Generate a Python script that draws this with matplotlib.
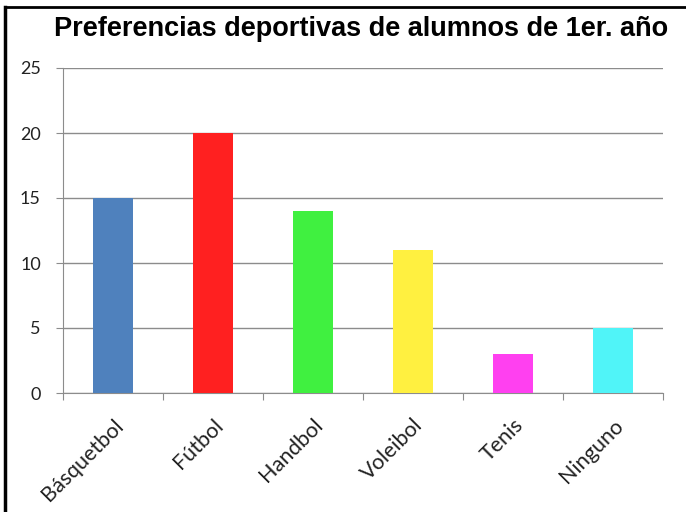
import numpy as np
import matplotlib
matplotlib.use('Agg')
import matplotlib.pyplot as plt
import matplotlib.transforms as mtransforms
from matplotlib.lines import Line2D

# datos del grafico
deportes = ['Básquetbol', 'Fútbol', 'Handbol', 'Voleibol', 'Tenis', 'Ninguno']
alumnos = [15, 20, 14, 11, 3, 5]
colores = ['#4F81BD', '#FF2020', '#40F040', '#FFF040', '#FF40F0', '#50F4F8']
y_ticks = [0, 5, 10, 15, 20, 25]

fig = plt.figure(figsize=(6.86, 5.12), dpi=100)
ax = fig.add_axes([63/686, 1-393/512, (663-63)/686, (393-68)/512])

x = np.arange(len(deportes))
ax.bar(x, alumnos, width=0.4, color=colores, zorder=3)

ax.set_xlim(-0.5, len(deportes)-0.5)
ax.set_ylim(0, 25)
ax.set_yticks(y_ticks)
ax.set_yticklabels(y_ticks, fontsize=13, family='Lato', color='#222222')
ax.yaxis.grid(True, color='#8C8C8C', linewidth=1.0, zorder=0)

# marcas del eje x entre categorias
ax.set_xticks(np.arange(-0.5, len(deportes)), minor=False)
ax.set_xticklabels([])
ax.set_xticks(x, minor=True)
etiquetas = ax.set_xticklabels(deportes, minor=True, rotation=45, ha='right',
                               rotation_mode='anchor', fontsize=15.5, family='Lato',
                               color='#222222')
desplaz = mtransforms.ScaledTranslation(0.08, 0, fig.dpi_scale_trans)
for et in etiquetas:
    et.set_transform(et.get_transform() + desplaz)
ax.tick_params(axis='x', which='minor', length=0, pad=16)
ax.tick_params(axis='x', which='major', length=5, color='#8C8C8C', direction='out')
ax.tick_params(axis='y', length=5, color='#8C8C8C', direction='out', pad=11)

for s in ['top', 'right']:
    ax.spines[s].set_visible(False)
ax.spines['left'].set_color('#8C8C8C')
ax.spines['bottom'].set_color('#8C8C8C')

fig.text(0.5 + 18/686, 1-29/512, 'Preferencias deportivas de alumnos de 1er. año',
         ha='center', va='center', fontsize=19.5, fontweight='bold',
         family='Liberation Sans')

# marco negro (solo izquierda y arriba)
fig.add_artist(Line2D([4.5/686, 4.5/686], [0, 1-7/512], color='black',
                      linewidth=2.5, transform=fig.transFigure))
fig.add_artist(Line2D([4.5/686, 1], [1-7/512, 1-7/512], color='black',
                      linewidth=2.0, transform=fig.transFigure))

plt.savefig('out.png', dpi=100)
